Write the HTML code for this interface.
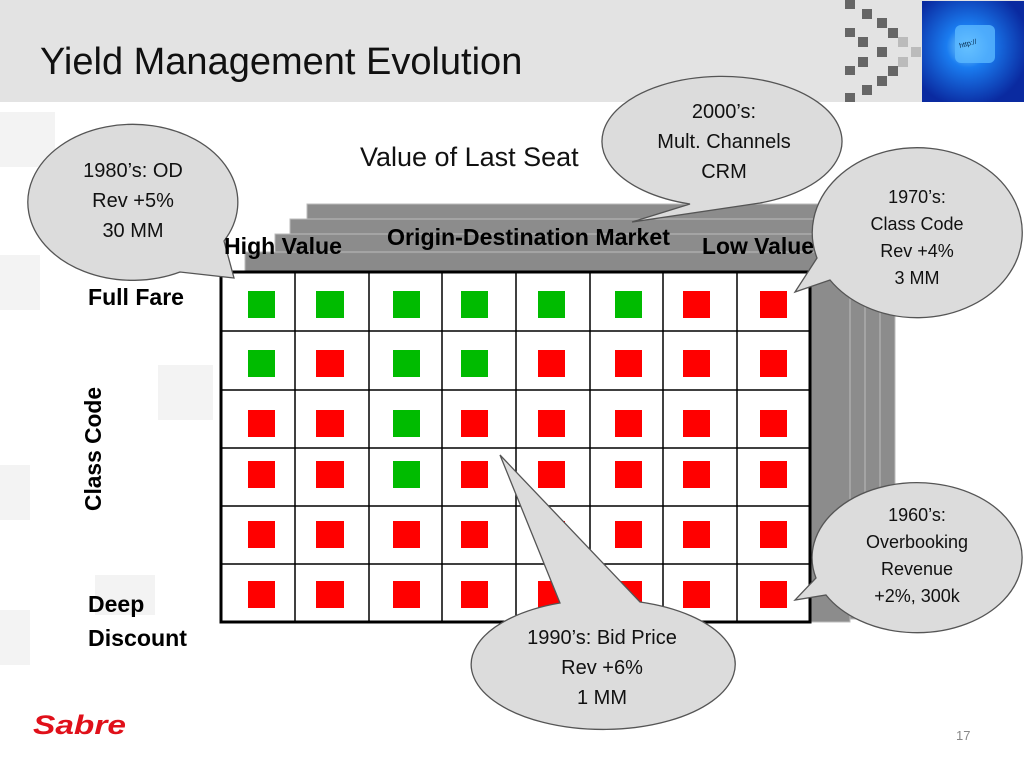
<!DOCTYPE html>
<html><head><meta charset="utf-8"><style>
html,body{margin:0;padding:0;background:#fff}
svg{display:block}
text{font-family:"Liberation Sans",Arial,sans-serif}
</style></head><body>
<svg width="1024" height="768" viewBox="0 0 1024 768" xmlns="http://www.w3.org/2000/svg">
<rect x="0" y="0" width="1024" height="102" fill="#e3e3e3"/>
<g fill="#f3f3f3">
<rect x="0" y="112" width="55" height="55"/><rect x="0" y="255" width="40" height="55"/>
<rect x="158" y="365" width="55" height="55"/><rect x="0" y="465" width="30" height="55"/>
<rect x="95" y="575" width="60" height="40"/><rect x="0" y="610" width="30" height="55"/>
</g>
<text x="40" y="74" font-size="38" fill="#111">Yield Management Evolution</text>
<g fill="#666">
<rect x="845" y="0" width="10" height="9"/><rect x="862" y="9" width="10" height="10"/><rect x="877" y="18" width="10" height="10"/>
<rect x="845" y="28" width="10" height="9"/><rect x="888" y="28" width="10" height="10"/><rect x="858" y="37" width="10" height="10"/>
<rect x="877" y="47" width="10" height="10"/><rect x="858" y="57" width="10" height="10"/><rect x="845" y="66" width="10" height="9"/>
<rect x="888" y="66" width="10" height="10"/><rect x="877" y="76" width="10" height="10"/><rect x="862" y="85" width="10" height="10"/><rect x="845" y="93" width="10" height="9"/>
</g>
<g fill="#bbb"><rect x="898" y="37" width="10" height="10"/><rect x="911" y="47" width="10" height="10"/><rect x="898" y="57" width="10" height="10"/></g>
<defs><radialGradient id="kb" cx="0.45" cy="0.45" r="0.6"><stop offset="0" stop-color="#8fe0ff"/><stop offset="0.35" stop-color="#1a7cf0"/><stop offset="1" stop-color="#0a2aa0"/></radialGradient></defs>
<rect x="922" y="1" width="102" height="101" fill="url(#kb)"/>
<rect x="955" y="25" width="40" height="38" rx="6" fill="#5ab8ff" opacity="0.8"/>
<text x="960" y="48" font-size="7" fill="#024" transform="rotate(-15 960 48)">http://</text>
<text x="360" y="166" font-size="27" fill="#111">Value of Last Seat</text>
<g fill="#8c8c8c" stroke="#bbb" stroke-width="1">
<rect x="307" y="204" width="588" height="400"/>
<rect x="290" y="219" width="590" height="395"/>
<rect x="275" y="234" width="590" height="385"/>
<rect x="245" y="252" width="605" height="370"/>
</g>
<rect x="247" y="254" width="600" height="20" fill="#8a8a8a"/>
<text x="387" y="245" font-size="23" font-weight="bold" fill="#000" textLength="283" lengthAdjust="spacingAndGlyphs">Origin-Destination Market</text>
<text x="702" y="254" font-size="23" font-weight="bold" fill="#000" textLength="112" lengthAdjust="spacingAndGlyphs">Low Value</text>
<rect x="221" y="272" width="589" height="350" fill="#fff" stroke="#000" stroke-width="3"/>
<g stroke="#000" stroke-width="1.5">
<line x1="295" y1="272" x2="295" y2="622"/><line x1="369" y1="272" x2="369" y2="622"/><line x1="442" y1="272" x2="442" y2="622"/>
<line x1="516" y1="272" x2="516" y2="622"/><line x1="590" y1="272" x2="590" y2="622"/><line x1="663" y1="272" x2="663" y2="622"/><line x1="737" y1="272" x2="737" y2="622"/>
<line x1="221" y1="331" x2="810" y2="331"/><line x1="221" y1="390" x2="810" y2="390"/><line x1="221" y1="448" x2="810" y2="448"/>
<line x1="221" y1="506" x2="810" y2="506"/><line x1="221" y1="564" x2="810" y2="564"/>
</g>
<g>
<rect x="248" y="291" width="27" height="27" fill="#0b0"/><rect x="316" y="291" width="28" height="27" fill="#0b0"/><rect x="393" y="291" width="27" height="27" fill="#0b0"/><rect x="461" y="291" width="27" height="27" fill="#0b0"/><rect x="538" y="291" width="27" height="27" fill="#0b0"/><rect x="615" y="291" width="27" height="27" fill="#0b0"/><rect x="683" y="291" width="27" height="27" fill="#f00"/><rect x="760" y="291" width="27" height="27" fill="#f00"/>
<rect x="248" y="350" width="27" height="27" fill="#0b0"/><rect x="316" y="350" width="28" height="27" fill="#f00"/><rect x="393" y="350" width="27" height="27" fill="#0b0"/><rect x="461" y="350" width="27" height="27" fill="#0b0"/><rect x="538" y="350" width="27" height="27" fill="#f00"/><rect x="615" y="350" width="27" height="27" fill="#f00"/><rect x="683" y="350" width="27" height="27" fill="#f00"/><rect x="760" y="350" width="27" height="27" fill="#f00"/>
<rect x="248" y="410" width="27" height="27" fill="#f00"/><rect x="316" y="410" width="28" height="27" fill="#f00"/><rect x="393" y="410" width="27" height="27" fill="#0b0"/><rect x="461" y="410" width="27" height="27" fill="#f00"/><rect x="538" y="410" width="27" height="27" fill="#f00"/><rect x="615" y="410" width="27" height="27" fill="#f00"/><rect x="683" y="410" width="27" height="27" fill="#f00"/><rect x="760" y="410" width="27" height="27" fill="#f00"/>
<rect x="248" y="461" width="27" height="27" fill="#f00"/><rect x="316" y="461" width="28" height="27" fill="#f00"/><rect x="393" y="461" width="27" height="27" fill="#0b0"/><rect x="461" y="461" width="27" height="27" fill="#f00"/><rect x="538" y="461" width="27" height="27" fill="#f00"/><rect x="615" y="461" width="27" height="27" fill="#f00"/><rect x="683" y="461" width="27" height="27" fill="#f00"/><rect x="760" y="461" width="27" height="27" fill="#f00"/>
<rect x="248" y="521" width="27" height="27" fill="#f00"/><rect x="316" y="521" width="28" height="27" fill="#f00"/><rect x="393" y="521" width="27" height="27" fill="#f00"/><rect x="461" y="521" width="27" height="27" fill="#f00"/><rect x="538" y="521" width="27" height="27" fill="#f00"/><rect x="615" y="521" width="27" height="27" fill="#f00"/><rect x="683" y="521" width="27" height="27" fill="#f00"/><rect x="760" y="521" width="27" height="27" fill="#f00"/>
<rect x="248" y="581" width="27" height="27" fill="#f00"/><rect x="316" y="581" width="28" height="27" fill="#f00"/><rect x="393" y="581" width="27" height="27" fill="#f00"/><rect x="461" y="581" width="27" height="27" fill="#f00"/><rect x="538" y="581" width="27" height="27" fill="#f00"/><rect x="615" y="581" width="27" height="27" fill="#f00"/><rect x="683" y="581" width="27" height="27" fill="#f00"/><rect x="760" y="581" width="27" height="27" fill="#f00"/>
</g>
<text x="88" y="305" font-size="23" font-weight="bold" fill="#000" textLength="96" lengthAdjust="spacingAndGlyphs">Full Fare</text>
<text transform="translate(101,511) rotate(-90)" font-size="23" font-weight="bold" fill="#000" textLength="124" lengthAdjust="spacingAndGlyphs">Class Code</text>
<text x="88" y="612" font-size="23" font-weight="bold" fill="#000">Deep</text>
<text x="88" y="646" font-size="23" font-weight="bold" fill="#000" textLength="99" lengthAdjust="spacingAndGlyphs">Discount</text>
<g fill="#dcdcdc" stroke="#555" stroke-width="1.3">
<path d="M180,272 A105,78 0 1 1 224,241 L234,278 Z"/>
<path d="M690,204 A120,65 0 1 1 760,203 L632,222 Z"/>
<path d="M830,280 A105,85 0 1 0 817,258 L795,292 Z"/>
<path d="M826,595 A105,75 0 1 0 816,578 L795,600 Z"/>
<path d="M560,603 A132,65 0 1 0 640,602 L500,455 Z"/>
</g>
<text x="224" y="254" font-size="23" font-weight="bold" fill="#000" textLength="118" lengthAdjust="spacingAndGlyphs">High Value</text>
<g font-size="20" fill="#111" text-anchor="middle">
<text x="133" y="177">1980’s: OD</text><text x="133" y="207">Rev +5%</text><text x="133" y="237">30 MM</text>
<text x="724" y="118">2000’s:</text><text x="724" y="148">Mult. Channels</text><text x="724" y="178">CRM</text>
<text x="917" y="203" font-size="18">1970’s:</text><text x="917" y="230" font-size="18">Class Code</text><text x="917" y="257" font-size="18">Rev +4%</text><text x="917" y="284" font-size="18">3 MM</text>
<text x="917" y="521" font-size="18">1960’s:</text><text x="917" y="548" font-size="18">Overbooking</text><text x="917" y="575" font-size="18">Revenue</text><text x="917" y="602" font-size="18">+2%, 300k</text>
<text x="602" y="644">1990’s: Bid Price</text><text x="602" y="674">Rev +6%</text><text x="602" y="704">1 MM</text>
</g>
<text x="33" y="734" font-size="27" font-weight="bold" font-style="italic" fill="#e0101a" textLength="93" lengthAdjust="spacingAndGlyphs">Sabre</text>
<text x="956" y="740" font-size="13" fill="#888">17</text>
</svg>
</body></html>
